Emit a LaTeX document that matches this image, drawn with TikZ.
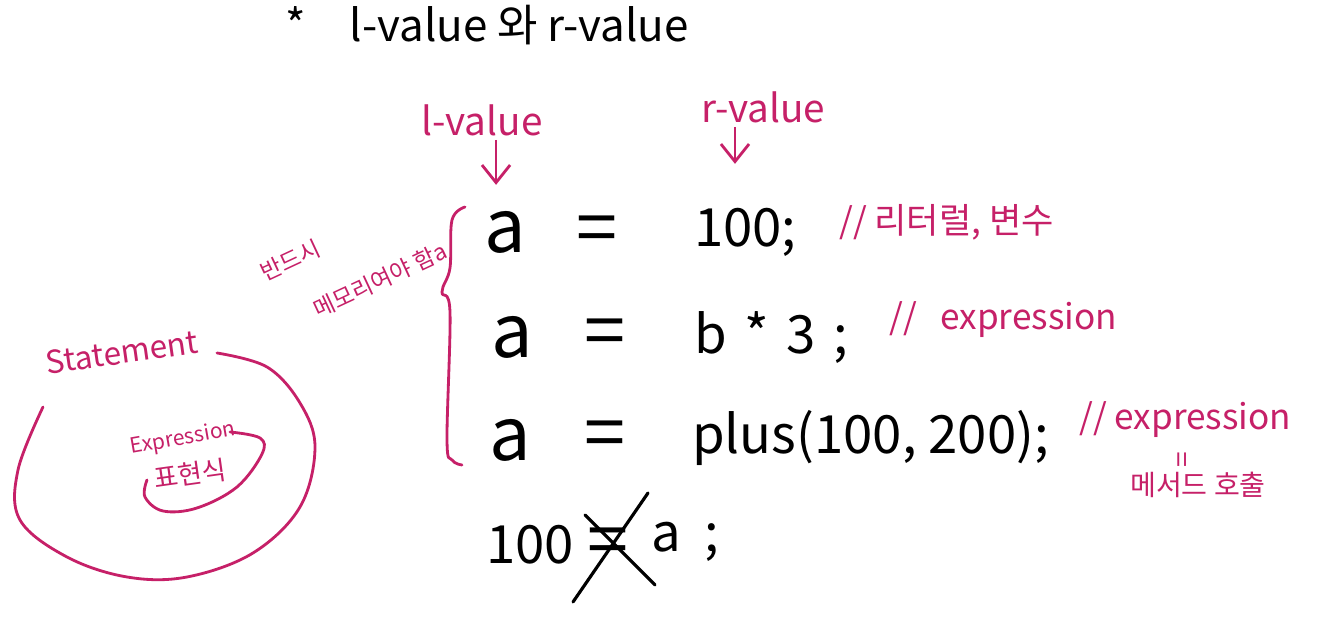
\documentclass[tikz,border=0pt]{standalone}
\usepackage{fontspec}
\setmainfont{Noto Sans CJK KR}
\usepackage{tikz}
\usetikzlibrary{
    arrows.meta,
    positioning,
    calc
}
\usepackage{xcolor}
\definecolor{inkred}{RGB}{198, 32, 104}
\tikzstyle{inkline} = [
    draw=inkred,
    line width=0.8pt,
    line cap=round,
    line join=round
]
\tikzstyle{inkarrow} = [
    ->,
    >={Straight Barb[length=5pt, width=8pt]},
    draw=inkred,
    line width=0.8pt
]
\tikzstyle{inktext} = [
    text=inkred,
    inner sep=1pt
]
\tikzstyle{codetext} = [
    text=black,
    inner sep=1pt,
    font=\fontsize{15}{18}\selectfont
]
\tikzstyle{bigcode} = [
    text=black,
    inner sep=1pt,
    font=\fontsize{21}{24}\selectfont
]

\begin{document}
\begin{tikzpicture}
    \useasboundingbox (0,0) rectangle (13.27,6.30);
    \fill[white] (0,0) rectangle (13.27,6.30);

    % Title
    \node[font=\fontsize{12.5}{15}\selectfont] (title) at (4.87,6.05) {*\quad l-value 와 r-value};

    % Value labels
    \node[inktext, font=\fontsize{11}{13}\selectfont] (lval) at (4.82,5.10) {l-value};
    \node[inktext, font=\fontsize{11}{13}\selectfont] (rval) at (7.63,5.23) {r-value};

    % Line 1
    \node[bigcode] (a1) at (5.05,3.98) {a};
    \node[bigcode] (eq1) at (5.97,3.95) {=};
    \node[codetext, anchor=west] (rhs1) at (6.90,3.98) {100;};
    \node[inktext, anchor=west, font=\fontsize{10}{12}\selectfont] (com1) at (8.35,4.08) {// 리터럴, 변수};

    % Line 2
    \node[bigcode] (a2) at (5.12,2.93) {a};
    \node[bigcode] (eq2) at (6.05,2.92) {=};
    \node[codetext, anchor=west] (rhs2) at (6.90,2.92) {b\,\,*\,\,3\,\,;};
    \node[inktext, anchor=west, font=\fontsize{10}{12}\selectfont] (com2) at (8.85,3.10) {// \ \ expression};

    % Line 3
    \node[bigcode] (a3) at (5.10,1.90) {a};
    \node[bigcode] (eq3) at (6.05,1.90) {=};
    \node[codetext, anchor=west] (rhs3) at (6.88,1.92) {plus(100, 200);};
    \node[inktext, anchor=west, font=\fontsize{10}{12}\selectfont] (com3) at (10.75,2.10) {// expression};
    \node[inktext, rotate=90, font=\fontsize{8}{10}\selectfont] (eqv) at (11.85,1.70) {=};
    \node[inktext, font=\fontsize{8}{10}\selectfont] (call) at (11.98,1.45) {메서드 호출};

    % Line 4 (not allowed)
    \node[codetext] (num4) at (5.30,0.85) {100};
    \node[bigcode] (eq4) at (6.08,0.83) {=};
    \node[codetext] (a4) at (6.85,0.88) {a\ \ ;};
    \draw[line width=0.9pt, line cap=round] ([shift={(-0.23,0.32)}]eq4.center) -- ([shift={(0.47,-0.38)}]eq4.center);
    \draw[line width=0.9pt, line cap=round] ([shift={(0.40,0.54)}]eq4.center) -- ([shift={(-0.35,-0.55)}]eq4.center);

    % Arrows
    \draw[inkarrow] ([xshift=4pt]lval.south) -- ++(0,-0.45);
    \draw[inkarrow] ([xshift=-0.28cm]rval.south) -- ++(0,-0.37);

    % Brace with note
    \draw[inkline] plot[smooth, tension=0.6] coordinates {(4.65,4.23) (4.52,4.10) (4.50,3.62) (4.42,3.38) (4.50,3.18) (4.47,1.90) (4.52,1.70) (4.62,1.65)};
    \node[inktext, rotate=25, font=\fontsize{6.5}{8}\selectfont] (must) at (2.90,3.70) {반드시};
    \node[inktext, rotate=25, font=\fontsize{6.5}{8}\selectfont] (memory) at (3.80,3.50) {메모리여야 함a};

    % Statement circle
    \node[inktext, rotate=8, font=\fontsize{9}{11}\selectfont] (stmt) at (1.22,2.78) {Statement};
    \draw[inkline] plot[smooth, tension=0.6] coordinates {(2.17,2.77) (2.67,2.63) (3.00,2.27) (3.15,1.83) (3.00,1.23) (2.53,0.77) (1.87,0.53) (1.27,0.53) (0.67,0.73) (0.20,1.10) (0.18,1.60) (0.43,2.23)};

    % Expression ellipse
    \node[inktext, rotate=10, font=\fontsize{6}{7}\selectfont] (expr) at (1.83,1.91) {Expression};
    \node[inktext, rotate=8, font=\fontsize{7.5}{9}\selectfont] (exprkr) at (1.90,1.56) {표현식};
    \draw[inkline] plot[smooth, tension=0.6] coordinates {(2.30,1.98) (2.60,1.92) (2.62,1.76) (2.37,1.43) (1.97,1.22) (1.63,1.19) (1.45,1.33) (1.47,1.50)};
\end{tikzpicture}
\end{document}
